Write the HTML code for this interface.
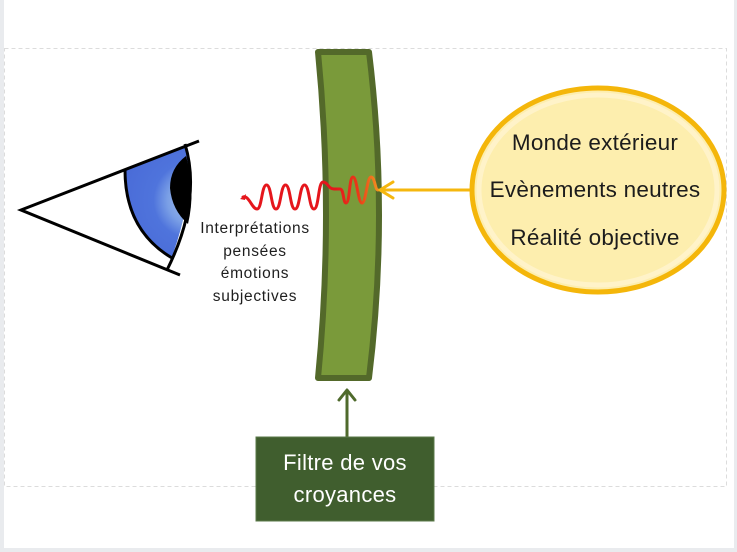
<!DOCTYPE html>
<html><head><meta charset="utf-8"><style>
html,body{margin:0;padding:0;background:#e9ebee;}
svg{display:block;}
</style></head><body>
<svg width="737" height="552" viewBox="0 0 737 552" xmlns="http://www.w3.org/2000/svg">
<defs>
<radialGradient id="iris" cx="192" cy="200" r="70" gradientUnits="userSpaceOnUse">
<stop offset="0" stop-color="#a8c4ec"/>
<stop offset="0.35" stop-color="#7a9fe6"/>
<stop offset="0.55" stop-color="#4f74dc"/>
<stop offset="1" stop-color="#4a6cd8"/>
</radialGradient>
<linearGradient id="wave" x1="335" y1="0" x2="378" y2="0" gradientUnits="userSpaceOnUse">
<stop offset="0" stop-color="#e5161c"/>
<stop offset="0.55" stop-color="#ea3a18"/>
<stop offset="1" stop-color="#f29020"/>
</linearGradient>
</defs>
<rect x="4" y="0" width="730" height="548" fill="#ffffff"/>
<rect x="4.5" y="48.5" width="722" height="438" fill="none" stroke="#dcdcdc" stroke-width="1" stroke-dasharray="4,3"/>

<!-- eye -->
<path d="M125,170 L187,146 Q197,185 172,257 Q142,240 131,213 Q126,195 125,170 Z" fill="url(#iris)"/>
<path d="M186,156 Q170,168 170,188 Q172,210 188,224 Q196,190 186,156 Z" fill="#000"/>
<path d="M125,170 Q125,230 172,258" fill="none" stroke="#000" stroke-width="3"/>
<path d="M185,144 Q202,200 167,270" fill="none" stroke="#000" stroke-width="3"/>
<polyline points="199,141 21,210 180,275" fill="none" stroke="#000" stroke-width="3"/>

<!-- eye text -->
<g font-family="Liberation Sans, sans-serif" font-size="15.5" fill="#1e1e1e" text-anchor="middle" letter-spacing="0.7">
<text x="255" y="233">Interprétations</text>
<text x="255" y="256">pensées</text>
<text x="255" y="278">émotions</text>
<text x="255" y="301">subjectives</text>
</g>

<!-- filter -->
<path d="M318,52 L369,52 Q389,215 369,378 L318,378 Q334,215 318,52 Z" fill="#7a9a3a" stroke="#53692a" stroke-width="6" stroke-linejoin="round"/>

<!-- wave -->
<path d="M240,199 L246,194 L245,200 Z" fill="#e5161c"/>
<path d="M243,197 C249,195 252,209 257,209 C262,209 261.5,185 266.5,185 C271.5,185 271,209 276,209 C281,209 280.5,185 285.5,185 C290.5,185 290,209 295,209 C300,209 299.5,185 304.5,185 C309.5,185 309,209 314,209 C319,209 318,182 323,182 C328,182 328,189 334,189 L340,189 C344,189 343,203 346,203 C350,203 349,177 353,177 C357,177 358,203 362,203 C366,203 367,177 371,177 C375,177 375,190 378,190" fill="none" stroke="url(#wave)" stroke-width="3" stroke-linecap="round" stroke-linejoin="round"/>

<!-- yellow arrow -->
<line x1="472" y1="190" x2="381" y2="190" stroke="#f5b70e" stroke-width="3"/>
<polyline points="393,182 380,190 393,198" fill="none" stroke="#f5b70e" stroke-width="3" stroke-linejoin="round" stroke-linecap="round"/>

<!-- ellipse -->
<ellipse cx="598" cy="190" rx="126" ry="102" fill="#fdeeae" stroke="#f4b60a" stroke-width="5"/>
<ellipse cx="598" cy="190" rx="119" ry="95" fill="none" stroke="#fff4cf" stroke-width="5" opacity="0.8"/>
<ellipse cx="598" cy="190" rx="113" ry="90" fill="#fdeeae"/>
<g font-family="Liberation Sans, sans-serif" font-size="22.5" fill="#1c1c1c" text-anchor="middle" letter-spacing="0.25">
<text x="595" y="150">Monde extérieur</text>
<text x="595" y="197">Evènements neutres</text>
<text x="595" y="245">Réalité objective</text>
</g>

<!-- bottom arrow -->
<line x1="347" y1="437" x2="347" y2="391" stroke="#4f6a2c" stroke-width="3"/>
<polyline points="339,400 347,390 355,400" fill="none" stroke="#4f6a2c" stroke-width="3" stroke-linecap="round" stroke-linejoin="round"/>

<!-- box -->
<rect x="256" y="437" width="178" height="84" fill="#405e2e" stroke="#5a7848" stroke-width="1"/>
<g font-family="Liberation Sans, sans-serif" font-size="22" fill="#ffffff" text-anchor="middle" letter-spacing="0.3">
<text x="345" y="470">Filtre de vos</text>
<text x="345" y="502">croyances</text>
</g>
</svg>
</body></html>
